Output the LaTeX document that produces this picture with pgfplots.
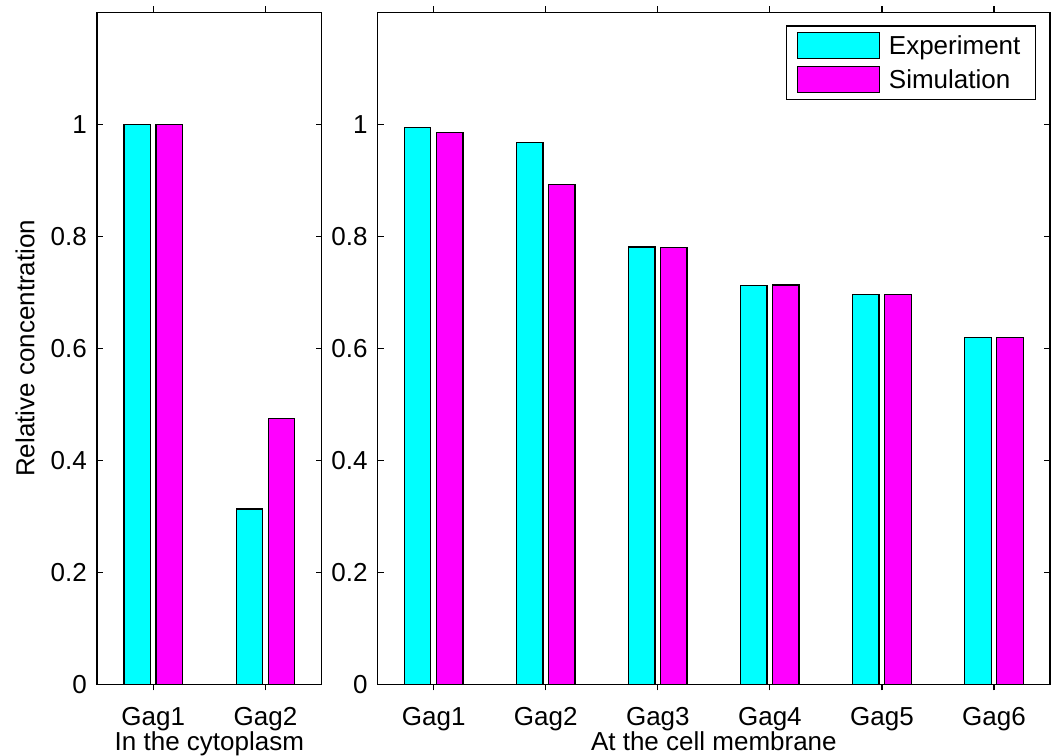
\documentclass[border=0pt]{standalone}
\usepackage{fontspec}
\setmainfont{Liberation Sans}
\usepackage{pgfplots}
\pgfplotsset{compat=1.18}

\definecolor{expcol}{rgb}{0,1,1}
\definecolor{simcol}{rgb}{1,0,1}

\pgfplotsset{
  gagaxis/.style={
    scale only axis,
    anchor=south west,
    height=672pt,
    ymin=0, ymax=1.2,
    ytick={0,0.2,0.4,0.6,0.8,1},
    tick align=inside,
    major tick length=6pt,
    axis line style={line width=1.3pt},
    every tick/.style={line width=1.2pt, black},
    font=\fontsize{26}{30}\selectfont,
    /pgf/number format/assume math mode=true,
    yticklabel style={anchor=east, inner sep=0pt, xshift=-10pt},
    xticklabel style={anchor=base, inner sep=0pt, yshift=-34.7pt},
    every axis x label/.style={at={(axis description cs:0.5,0)}, anchor=base, yshift=-65.7pt},
    ybar, bar width=0.235,
    exp/.style={fill=expcol, draw=black, line width=1.2pt, bar shift=-0.143},
    sim/.style={fill=simcol, draw=black, line width=1.2pt, bar shift=0.143},
  }
}

\begin{document}
\begin{tikzpicture}
\useasboundingbox (0,0) rectangle (1057pt,-755pt);

% Cytoplasmic Gag
\begin{axis}[gagaxis,
  at={(97pt,-684.3pt)}, width=224.7pt,
  xmin=0.5, xmax=2.5,
  xtick={1,2}, xticklabels={Gag1,Gag2},
  xlabel={In the cytoplasm},
  ylabel={Relative concentration},
  every axis y label/.style={at={(axis description cs:0,0.5)}, xshift=-72pt, rotate=90, anchor=center},
]
\addplot[exp] coordinates {(1,1.000) (2,0.313)};
\addplot[sim] coordinates {(1,1.000) (2,0.475)};
\end{axis}

% Membrane-bound Gag
\begin{axis}[gagaxis,
  at={(377.7pt,-684.3pt)}, width=672.3pt,
  xmin=0.5, xmax=6.5,
  xtick={1,2,3,4,5,6}, xticklabels={Gag1,Gag2,Gag3,Gag4,Gag5,Gag6},
  xlabel={At the cell membrane},
  legend style={at={(1,1)}, anchor=north east, xshift=-14pt, yshift=-13pt,
    draw=black, line width=1.2pt, fill=white,
    inner xsep=10pt, inner ysep=6pt, row sep=7pt, column sep=4pt,
    nodes={inner xsep=5pt, inner ysep=2pt, anchor=west}},
  legend image code/.code={\draw[#1] (0pt,-13pt) rectangle (82pt,13pt);},
]
\addplot[exp] coordinates {(1,0.995) (2,0.967) (3,0.781) (4,0.712) (5,0.696) (6,0.620)};
\addplot[sim] coordinates {(1,0.986) (2,0.893) (3,0.780) (4,0.713) (5,0.696) (6,0.620)};
\legend{Experiment,Simulation}
\end{axis}
\end{tikzpicture}
\end{document}
